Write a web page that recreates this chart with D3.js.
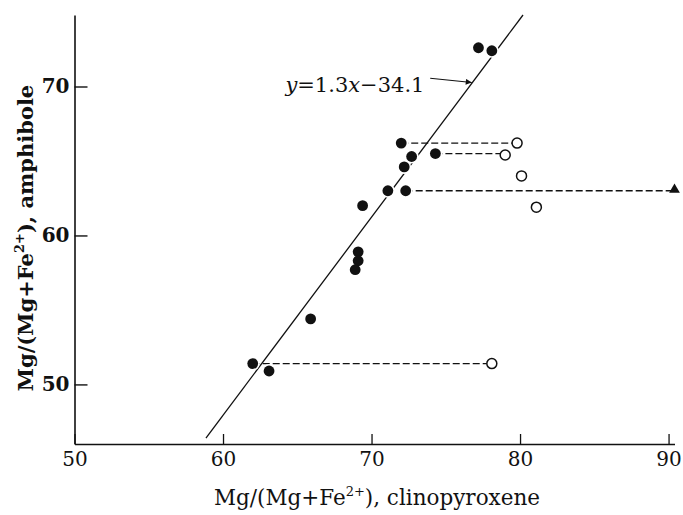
<!DOCTYPE html>
<html>
<head>
<meta charset="utf-8">
<script src="https://cdn.jsdelivr.net/npm/d3@7"></script>
<style>
  body { margin: 0; background: #fff; }
  svg { display: block; }
  text { font-family: "DejaVu Serif", serif; fill: #111; }
</style>
</head>
<body>
<div id="chart-area"></div>
<script>
// filled points: amphibole vs clinopyroxene
var filledX = [77.2, 78.1, 72.0, 72.7, 74.3, 72.2, 71.1, 72.3, 69.4, 69.1, 69.1, 68.9, 65.9, 62.0, 63.1];
var filledY = [72.6, 72.4, 66.2, 65.3, 65.5, 64.6, 63.0, 63.0, 62.0, 58.9, 58.3, 57.7, 54.4, 51.4, 50.9];

// open points
var openX = [79.8, 79.0, 80.1, 81.1, 78.1];
var openY = [66.2, 65.4, 64.0, 61.9, 51.4];

// triangle
var triX = [90.4];
var triY = [63.0];

// tie lines (dashed): from x0 to x1 at y
var tieX0 = [72.0, 74.3, 72.3, 62.0];
var tieX1 = [79.8, 79.0, 90.4, 78.1];
var tieY  = [66.2, 65.5, 63.0, 51.4];

// regression line ends
var lineX = [58.85, 80.2];
var lineY = [46.4, 74.8];

var xTicks = [50, 60, 70, 80, 90];
var yTicks = [50, 60, 70];

var svgWidth = 683, svgHeight = 515;

var svg = d3.select("#chart-area").append("svg")
  .attr("width", svgWidth)
  .attr("height", svgHeight);

var x = d3.scaleLinear().domain([50, 90.4]).range([74.5, 674.5]);
var y = d3.scaleLinear().domain([46, 74.8]).range([444, 15]);

// axes
svg.append("g")
  .attr("transform", "translate(" + x(50) + ",0)")
  .call(d3.axisLeft(y).tickValues(yTicks).tickSize(-13).tickPadding(5).tickSizeOuter(0))
  .call(g => g.select(".domain").attr("stroke", "#111").attr("stroke-width", 1.6))
  .call(g => g.selectAll(".tick line").attr("stroke", "#111").attr("stroke-width", 1.4))
  .call(g => g.selectAll(".tick text").attr("font-size", 20).attr("font-weight", "bold").attr("font-family", "DejaVu Serif").attr("fill", "#111"));

svg.append("g")
  .attr("transform", "translate(0," + y(46) + ")")
  .call(d3.axisBottom(x).tickValues(xTicks).tickSize(-10).tickPadding(8).tickSizeOuter(0))
  .call(g => g.select(".domain").attr("stroke", "#111").attr("stroke-width", 1.6))
  .call(g => g.selectAll(".tick line").attr("stroke", "#111").attr("stroke-width", 1.3))
  .call(g => g.selectAll(".tick text").attr("font-size", 20).attr("font-family", "DejaVu Serif").attr("fill", "#111"));

// regression line
svg.append("line")
  .attr("x1", x(lineX[0])).attr("y1", y(lineY[0]))
  .attr("x2", x(lineX[1])).attr("y2", y(lineY[1]))
  .attr("stroke", "#111").attr("stroke-width", 1.3);

// dashed tie lines
svg.selectAll(".tie")
  .data(tieY)
  .enter()
  .append("line")
  .attr("class", "tie")
  .attr("x1", (d, i) => x(tieX0[i]))
  .attr("x2", (d, i) => x(tieX1[i]))
  .attr("y1", d => y(d))
  .attr("y2", d => y(d))
  .attr("stroke", "#111")
  .attr("stroke-width", 1.3)
  .attr("stroke-dasharray", "7,3");

// open circles
svg.selectAll(".open")
  .data(openX)
  .enter()
  .append("circle")
  .attr("class", "open")
  .attr("cx", d => x(d))
  .attr("cy", (d, i) => y(openY[i]))
  .attr("r", 5)
  .attr("fill", "#fff")
  .attr("stroke", "#111")
  .attr("stroke-width", 1.5);

// white halos first so the line breaks round the dots like the print
svg.selectAll(".halo")
  .data(filledX)
  .enter()
  .append("circle")
  .attr("class", "halo")
  .attr("cx", d => x(d))
  .attr("cy", (d, i) => y(filledY[i]))
  .attr("r", 7)
  .attr("fill", "#fff");

svg.selectAll(".filled")
  .data(filledX)
  .enter()
  .append("circle")
  .attr("class", "filled")
  .attr("cx", d => x(d))
  .attr("cy", (d, i) => y(filledY[i]))
  .attr("r", 5.4)
  .attr("fill", "#111");

// triangle
svg.selectAll(".tri")
  .data(triX)
  .enter()
  .append("path")
  .attr("class", "tri")
  .attr("d", d3.symbol().type(d3.symbolTriangle).size(50))
  .attr("transform", (d, i) => "translate(" + x(d) + "," + (y(triY[i]) - 1) + ")")
  .attr("fill", "#111");

// equation label with arrow
svg.append("defs").append("marker")
  .attr("id", "arrow")
  .attr("viewBox", "0 0 10 10")
  .attr("refX", 10).attr("refY", 5)
  .attr("markerWidth", 9).attr("markerHeight", 6)
  .attr("markerUnits", "userSpaceOnUse")
  .attr("orient", "auto")
  .append("path")
  .attr("d", "M0,0L10,5L0,10z")
  .attr("fill", "#111");

svg.append("line")
  .attr("x1", x(73.95)).attr("y1", y(70.55))
  .attr("x2", x(76.75)).attr("y2", y(70.27))
  .attr("stroke", "#111").attr("stroke-width", 1.1)
  .attr("marker-end", "url(#arrow)");

var eq = svg.append("text")
  .attr("x", x(64.2))
  .attr("y", y(69.6))
  .attr("font-size", 21);
eq.append("tspan").attr("font-style", "italic").text("y");
eq.append("tspan").text("=1.3");
eq.append("tspan").attr("font-style", "italic").text("x");
eq.append("tspan").text("\u221234.1");

// axis titles
var xt = svg.append("text")
  .attr("x", 377)
  .attr("y", 505)
  .attr("text-anchor", "middle")
  .attr("font-size", 21.5);
xt.append("tspan").text("Mg/(Mg+Fe");
xt.append("tspan").attr("font-size", 13).attr("dy", -9).text("2+");
xt.append("tspan").attr("dy", 9).text("), clinopyroxene");

var yt = svg.append("text")
  .attr("transform", "translate(33,238) rotate(-90)")
  .attr("text-anchor", "middle")
  .attr("font-size", 21)
  .attr("font-weight", "bold");
yt.append("tspan").text("Mg/(Mg+Fe");
yt.append("tspan").attr("font-size", 13).attr("dy", -9).text("2+");
yt.append("tspan").attr("dy", 9).text("), amphibole");
</script>
</body>
</html>
